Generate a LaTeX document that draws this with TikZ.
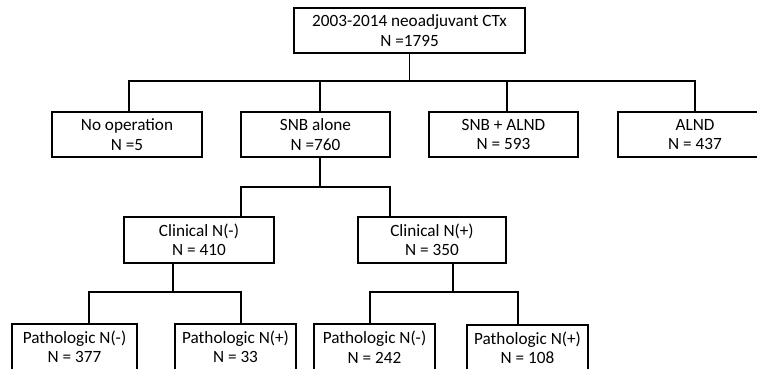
\documentclass[tikz,border=0pt]{standalone}
\usepackage{fontspec}
\setmainfont{Carlito}
\usetikzlibrary{positioning}
\tikzset{%
  box/.style={draw, line width=1.3pt, align=center, inner sep=0pt,
    minimum height=45pt, font=\fontsize{17.2}{19.5}\selectfont},
  link/.style={line width=1.3pt}
}

\begin{document}
\begin{tikzpicture}[x=1pt, y=-1pt]
  \useasboundingbox (0,0) rectangle (757,369);

  % top level
  \node[box, minimum width=231pt] (total) at (409.5,30.5) {2003-2014 neoadjuvant CTx\\N =1795};

  % operation groups
  \node[box, minimum width=150pt] (noop) at (127,134.5) {No operation\\N =5};
  \node[box, minimum width=149pt] (snb) at (315.5,134.5) {SNB alone\\N =760};
  \node[box, minimum width=149pt] (snbalnd) at (503.5,134.5) {SNB + ALND\\N = 593};
  \node[box, minimum width=154pt] (alnd) at (695,134.5) {ALND\\N = 437};

  % clinical status
  \node[box, minimum width=150pt, minimum height=46pt] (clneg) at (199,240) {Clinical N(-)\\N = 410};
  \node[box, minimum width=148pt, minimum height=46pt] (clpos) at (432,240) {Clinical N(+)\\N = 350};

  % pathologic status
  \node[box, minimum width=125pt, minimum height=46pt] (pneg1) at (74.5,347) {Pathologic N(-)\\N = 377};
  \node[box, minimum width=121pt, minimum height=46pt] (ppos1) at (235.5,347) {Pathologic N(+)\\N = 33};
  \node[box, minimum width=121pt, minimum height=46pt] (pneg2) at (374.5,347) {Pathologic N(-)\\N = 242};
  \node[box, minimum width=121pt, minimum height=46pt] (ppos2) at (527.5,348) {Pathologic N(+)\\N = 108};

  \coordinate (bus1) at (409.5,81);
  \coordinate (bus2) at (320,187);
  \coordinate (bus3) at (173,292);
  \coordinate (bus4) at (453,292);

  \draw[link] (total) -- (bus1);
  \draw[link] ([xshift=2pt]noop.north) |- (bus1) -| (alnd.north);
  \draw[link] ([xshift=4.5pt]snb.north) -- ([xshift=4.5pt]snb.north |- bus1);
  \draw[link] ([xshift=3.5pt]snbalnd.north) -- ([xshift=3.5pt]snbalnd.north |- bus1);

  \draw[link] ([xshift=4.5pt]snb.south) -- (bus2);
  \draw[link] ([xshift=42pt]clneg.north) |- (bus2) -| ([xshift=-42pt]clpos.north);

  \draw[link] ([xshift=-26pt]clneg.south) -- (bus3);
  \draw[link] ([xshift=14.5pt]pneg1.north) |- (bus3) -| ([xshift=5.5pt]ppos1.north);

  \draw[link] ([xshift=21pt]clpos.south) -- (bus4);
  \draw[link] ([xshift=-4.5pt]pneg2.north) |- (bus4) -| ([xshift=-9.5pt]ppos2.north);
\end{tikzpicture}
\end{document}
